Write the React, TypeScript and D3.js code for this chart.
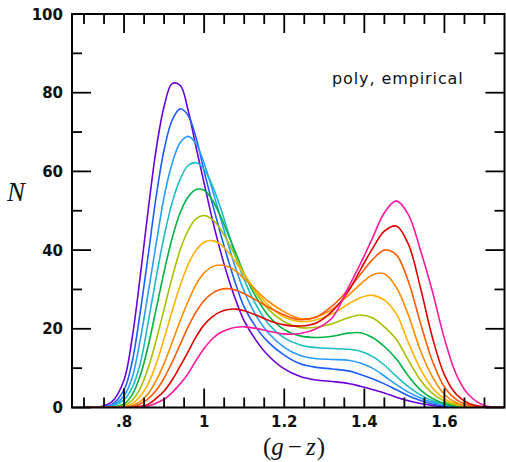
import React from "react";
import * as d3 from "d3";

// colour index grid (g - z)
const xGrid = [0.70, 0.74, 0.77, 0.80, 0.82, 0.84, 0.86, 0.88, 0.90, 0.92, 0.94, 0.96, 0.98, 1.00, 1.02, 1.04, 1.06, 1.08, 1.10, 1.13, 1.16, 1.20, 1.24, 1.28, 1.32, 1.36, 1.39, 1.42, 1.45, 1.48, 1.51, 1.54, 1.57, 1.60, 1.63, 1.66, 1.70, 1.75];

const purpleN = [0, 0.2, 1.5, 7, 17.5, 33, 50, 65.5, 76.5, 82.3, 81.9, 75.5, 66, 57, 48, 40, 33, 27, 22, 17, 13.2, 9.8, 7.9, 7.0, 6.6, 6.1, 5.4, 4.6, 3.7, 2.6, 1.7, 1.0, 0.5, 0.2, 0.1, 0, 0, 0];
const blueN = [0, 0.1, 0.8, 4.5, 11.5, 24, 38.5, 53.5, 65.5, 73, 75.9, 74.2, 68.5, 60, 52, 44.5, 37.5, 31, 25.5, 20.3, 16.6, 13.3, 11.1, 10.2, 9.8, 9.3, 8.4, 7.3, 6.0, 4.5, 3.0, 1.8, 0.9, 0.4, 0.15, 0.05, 0, 0];
const lightBlueN = [0, 0.05, 0.5, 3, 7.5, 17, 29, 41.5, 53.5, 62, 67.3, 68.9, 67, 62, 55.5, 48.5, 41.5, 35, 29.5, 23.3, 19, 15.3, 13.2, 12.4, 12.2, 12.0, 11.3, 10.0, 8.0, 5.8, 3.9, 2.4, 1.3, 0.6, 0.25, 0.1, 0, 0];
const cyanN = [0, 0, 0.3, 2, 5, 11, 21.5, 33, 43.5, 52, 58, 61.5, 62.2, 60.5, 56.5, 51, 44.5, 38, 32.5, 26, 21.3, 17.7, 15.9, 15.2, 15.0, 14.8, 14.3, 13.0, 10.8, 7.9, 5.3, 3.2, 1.7, 0.8, 0.35, 0.12, 0, 0];
const greenN = [0, 0, 0.1, 0.9, 3.2, 8, 15.5, 25, 34.5, 43, 49.5, 53.5, 55.4, 55.2, 52.8, 48.8, 44, 39, 34, 28, 23.4, 19.8, 18.2, 17.8, 18.1, 18.9, 19.0, 17.8, 15.5, 12.3, 8.0, 4.5, 2.3, 1.0, 0.4, 0.15, 0, 0];
const yellowGreenN = [0, 0, 0, 0.5, 1.8, 4.8, 10, 17, 25, 33, 40, 45, 48, 48.8, 47.8, 45.5, 42, 38, 34, 29, 25, 21.8, 20.3, 20.4, 21.3, 22.8, 23.5, 22.8, 20.5, 17.3, 12.0, 7.0, 3.6, 1.6, 0.6, 0.2, 0.05, 0];
const goldN = [0, 0, 0, 0.2, 1.0, 2.8, 6.0, 11, 17.5, 24.5, 31, 36.3, 40, 42, 42.4, 41.5, 39.5, 36.8, 33.8, 29.5, 26, 23, 21.8, 22.3, 23.8, 26.3, 27.9, 28.5, 27.3, 23.8, 16.5, 9.8, 5.0, 2.2, 0.9, 0.3, 0.05, 0];
const orangeN = [0, 0, 0, 0.1, 0.5, 1.5, 3.5, 6.8, 11.2, 16.5, 22, 27, 31.3, 34.2, 35.8, 36.2, 35.8, 34.6, 32.8, 29.8, 27, 24.3, 22.6, 23.0, 25.0, 28.5, 31.3, 33.7, 34.0, 30.5, 23.5, 14.5, 7.8, 3.3, 1.2, 0.4, 0.05, 0];
const darkOrangeN = [0, 0, 0, 0, 0.2, 0.9, 2.2, 4.3, 7.5, 11.5, 16, 20.5, 24.3, 27.2, 29.0, 30.0, 30.2, 29.8, 28.9, 27.3, 25.5, 23.5, 22.3, 23.0, 25.8, 30.0, 33.8, 37.5, 40.0, 38.8, 32.0, 21.5, 11.8, 5.2, 2.0, 0.7, 0.1, 0];
const redN = [0, 0, 0, 0, 0, 0.3, 0.8, 2.3, 4.2, 7.0, 10.5, 14.2, 18.0, 21.0, 23.0, 24.3, 24.9, 25.0, 24.6, 23.5, 22.2, 21.0, 20.7, 21.5, 24.5, 29.5, 35.0, 40.3, 44.8, 46.1, 41.5, 30.5, 17.8, 8.3, 3.3, 1.1, 0.15, 0];
const magentaN = [0, 0, 0, 0, 0, 0, 0.4, 1.1, 2.1, 3.8, 6.0, 8.6, 12.0, 15.0, 17.4, 19.0, 19.9, 20.4, 20.5, 20.1, 19.4, 18.7, 18.8, 20.0, 22.8, 30.5, 36.5, 43.0, 49.5, 52.5, 49.0, 40.0, 29.5, 17.5, 8.3, 3.3, 0.5, 0];

const seriesValues = [purpleN, blueN, lightBlueN, cyanN, greenN, yellowGreenN, goldN, orangeN, darkOrangeN, redN, magentaN];
const seriesColors = ["#6a00d8", "#1e5cff", "#2a9bff", "#1cbcc4", "#00b244", "#a8c000", "#ffb300", "#ff8a00", "#ff5a00", "#e00000", "#ff1aa0"];

const xMajor = [0.8, 1.0, 1.2, 1.4, 1.6];
const xMajorLabels = [".8", "1", "1.2", "1.4", "1.6"];
const xMinor = [0.7, 0.75, 0.85, 0.9, 0.95, 1.05, 1.1, 1.15, 1.25, 1.3, 1.35, 1.45, 1.5, 1.55, 1.65, 1.7];
const yMajor = [0, 20, 40, 60, 80, 100];
const yMajorLabels = ["0", "20", "40", "60", "80", "100"];
const yMinor = [10, 30, 50, 70, 90];

export default function App() {
  const W = 506, H = 462;
  const L = 72, R = 504.5, T = 14, B = 407.5;
  const x = d3.scaleLinear().domain([0.67, 1.75]).range([L, R]);
  const y = d3.scaleLinear().domain([0, 100]).range([B, T]);
  const line = d3.line<number>()
    .x((_, i) => x(xGrid[i]))
    .y((d) => y(d))
    .curve(d3.curveCatmullRom.alpha(0.5));
  const majLen = 19, minLen = 10;
  const tickStyle = { stroke: "#000", strokeWidth: 1.8 };
  const labelFont = { fontFamily: "DejaVu Sans", fontWeight: 700, fontSize: 15, fill: "#111" } as const;

  return (
    <svg width={W} height={H} style={{ position: "absolute", left: 0, top: 0, background: "#fff" }}>
      <defs>
        <clipPath id="plot"><rect x={L} y={T} width={R - L} height={B - T} /></clipPath>
      </defs>
      <rect x={0} y={0} width={W} height={H} fill="#fff" />
      <g clipPath="url(#plot)">
        {seriesValues.map((vals, k) => (
          <path key={k} d={line(vals) || ""} fill="none" stroke={seriesColors[k]} strokeWidth={1.6} />
        ))}
      </g>
      {xMajor.map((v) => (
        <g key={"xM" + v}>
          <line x1={x(v)} x2={x(v)} y1={B} y2={B - majLen} {...tickStyle} />
          <line x1={x(v)} x2={x(v)} y1={T} y2={T + majLen} {...tickStyle} />
        </g>
      ))}
      {xMinor.map((v) => (
        <g key={"xm" + v}>
          <line x1={x(v)} x2={x(v)} y1={B} y2={B - minLen} {...tickStyle} />
          <line x1={x(v)} x2={x(v)} y1={T} y2={T + minLen} {...tickStyle} />
        </g>
      ))}
      {yMajor.map((v) => (
        <g key={"yM" + v}>
          <line x1={L} x2={L + majLen} y1={y(v)} y2={y(v)} {...tickStyle} />
          <line x1={R} x2={R - majLen} y1={y(v)} y2={y(v)} {...tickStyle} />
        </g>
      ))}
      {yMinor.map((v) => (
        <g key={"ym" + v}>
          <line x1={L} x2={L + minLen} y1={y(v)} y2={y(v)} {...tickStyle} />
          <line x1={R} x2={R - minLen} y1={y(v)} y2={y(v)} {...tickStyle} />
        </g>
      ))}
      <rect x={L} y={T} width={R - L} height={B - T} fill="none" stroke="#000" strokeWidth={2} />
      {xMajor.map((v, i) => (
        <text key={"xl" + v} x={x(v)} y={427} textAnchor="middle" {...labelFont}>{xMajorLabels[i]}</text>
      ))}
      {yMajor.map((v, i) => (
        <text key={"yl" + v} x={63} y={y(v) + 5.5} textAnchor="end" {...labelFont}>{yMajorLabels[i]}</text>
      ))}
      <text x={7} y={201} fontFamily="Liberation Serif" fontStyle="italic" fontSize={27} fill="#111">N</text>
      <text x={294} y={455} textAnchor="middle" fontFamily="Liberation Serif" fontSize={25} fill="#111">
        <tspan>(</tspan>
        <tspan fontStyle="italic">g</tspan>
        <tspan dx={4}>−</tspan>
        <tspan dx={4} fontStyle="italic">z</tspan>
        <tspan dx={1}>)</tspan>
      </text>
      <text x={332} y={84} fontFamily="DejaVu Sans" fontSize={16} letterSpacing={0.9} fill="#111">poly, empirical</text>
    </svg>
  );
}
